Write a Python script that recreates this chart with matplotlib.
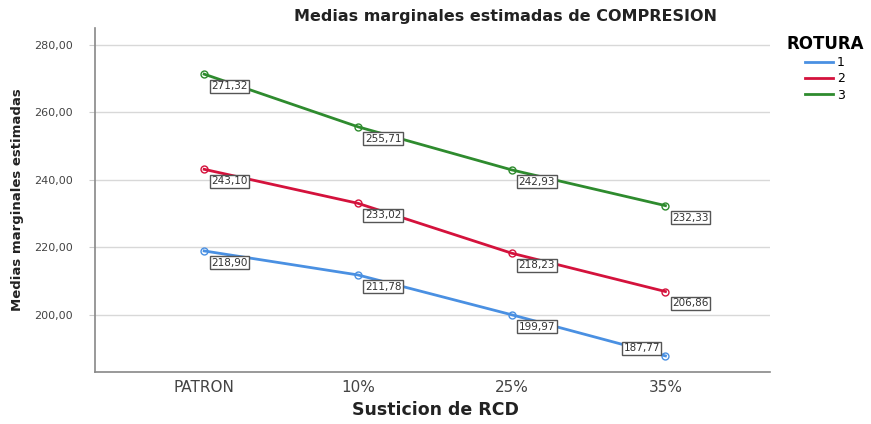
import matplotlib
matplotlib.use("Agg")
import matplotlib.pyplot as plt
from matplotlib.lines import Line2D

categories = ["PATRON", "10%", "25%", "35%"]
rotura_1 = [218.90, 211.78, 199.97, 187.77]
rotura_2 = [243.10, 233.02, 218.23, 206.86]
rotura_3 = [271.32, 255.71, 242.93, 232.33]
series_names = ["1", "2", "3"]
yticks = [200, 220, 240, 260, 280]

colors = ["#4a90e2", "#d4123c", "#2e8b2e"]

fig = plt.figure(figsize=(8.71, 4.24), dpi=100)
ax = fig.add_axes([95/871, 1-372/424, (770-95)/871, (372-28)/424])

x = list(range(len(categories)))
for vals, c in zip([rotura_1, rotura_2, rotura_3], colors):
    ax.plot(x, vals, color=c, lw=2, marker="o", ms=5, mfc="none", mec=c, mew=1, zorder=3)
    for xi, v in zip(x, vals):
        lab = f"{v:.2f}".replace(".", ",")
        if v < 195:
            kw = dict(xytext=(-4, 2), ha="right", va="bottom")
        else:
            kw = dict(xytext=(5, -5), ha="left", va="top")
        ax.annotate(lab, (xi, v), textcoords="offset points",
                    fontsize=7.5, color="#333333",
                    bbox=dict(boxstyle="square,pad=0.15", fc="white", ec="#555555", lw=1),
                    zorder=4, **kw)

ax.set_xlim(-0.71, 3.68)
ax.set_ylim(183, 285)
ax.set_xticks(x)
ax.set_xticklabels(categories, fontsize=11, color="#444444")
ax.set_yticks(yticks)
ax.set_yticklabels([f"{t:.2f}".replace(".", ",") for t in yticks], fontsize=8, color="#444444")
ax.tick_params(axis="x", length=0, pad=6)
ax.tick_params(axis="y", length=4, color="#cccccc", pad=12)
ax.grid(axis="y", color="#d8d8d8", lw=1)
ax.set_axisbelow(True)
for s in ["top", "right"]:
    ax.spines[s].set_visible(False)
ax.spines["left"].set_color("#888888")
ax.spines["bottom"].set_color("#888888")
ax.spines["left"].set_linewidth(1.2)
ax.spines["bottom"].set_linewidth(1.2)

fig.text(505/871, 1-17/424, "Medias marginales estimadas de COMPRESION", ha="center", va="center",
         fontsize=11.5, fontweight="bold", color="#222222")
fig.text(18/871, 1-200/424, "Medias marginales estimadas", rotation=90, ha="center", va="center",
         fontsize=9.5, fontweight="bold", color="#222222")
fig.text(435/871, 1-410/424, "Susticion de RCD", ha="center", va="center",
         fontsize=12.5, fontweight="bold", color="#222222")

handles = [Line2D([0], [0], color=c, lw=2) for c in colors]
leg = fig.legend(handles, series_names, title="ROTURA", loc="upper left",
                 bbox_to_anchor=(775/871, 1-24/424), frameon=False, fontsize=9,
                 handlelength=2.2, handletextpad=0.3, labelspacing=0.25,
                 title_fontproperties={"weight": "bold", "size": 12})
leg._legend_box.align = "center"

fig.savefig("out.png", dpi=100)
